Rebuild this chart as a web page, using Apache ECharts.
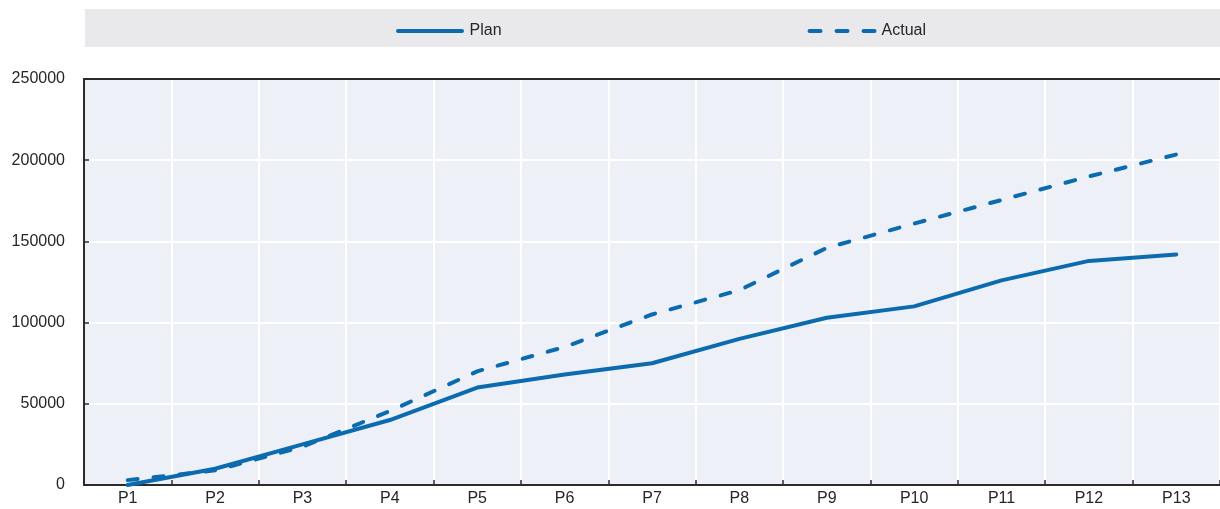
<!DOCTYPE html>
<html>
<head>
<meta charset="utf-8">
<script src="https://cdn.jsdelivr.net/npm/echarts@6/dist/echarts.min.js"></script>
<style>
  html, body { margin: 0; padding: 0; background: #ffffff; }
  #chart { width: 1220px; height: 509px; }
</style>
</head>
<body>
<div id="chart"></div>
<script>
// Periods on the horizontal axis
const periods = ['P1', 'P2', 'P3', 'P4', 'P5', 'P6', 'P7', 'P8', 'P9', 'P10', 'P11', 'P12', 'P13'];
// Cumulative planned values
const planValues = [0, 10000, 25000, 40000, 60000, 68000, 75000, 90000, 103000, 110000, 126000, 138000, 142000];
// Cumulative actual values
const actualValues = [3000, 9000, 23500, 45500, 70000, 85000, 105000, 120000, 146000, 161000, 175500, 190000, 203500];
// Value axis ticks
const yMin = 0, yMax = 250000, yStep = 50000;

const blue = '#0b6bae';
const textColor = '#262626';
const fontFamily = '"Liberation Sans", Arial, sans-serif';

// Legend keys: a solid bar and three short dashes
const solidKey = 'path://M2,0 H66 A2,2 0 0 1 66,4 H2 A2,2 0 0 1 2,0 Z';
const dashedKey = 'path://M2,0 H13 A2,2 0 0 1 13,4 H2 A2,2 0 0 1 2,0 Z M29,0 H40 A2,2 0 0 1 40,4 H29 A2,2 0 0 1 29,0 Z M56,0 H67 A2,2 0 0 1 67,4 H56 A2,2 0 0 1 56,0 Z';

const chart = echarts.init(document.getElementById('chart'), null, { renderer: 'canvas' });

chart.setOption({
  animation: false,
  backgroundColor: '#ffffff',
  textStyle: { fontFamily: fontFamily },
  graphic: [{
    type: 'rect',
    z: -10,
    shape: { x: 85, y: 9, width: 1135, height: 38 },
    style: { fill: '#e9e9eb' }
  }],
  legend: {
    left: 391,
    top: 18,
    itemWidth: 69,
    itemHeight: 4,
    itemGap: 306,
    textStyle: { fontSize: 16, color: textColor, fontFamily: fontFamily },
    data: [
      { name: 'Plan', icon: solidKey },
      { name: 'Actual', icon: dashedKey }
    ]
  },
  grid: {
    left: 84, right: 0, top: 79, bottom: 24,
    show: true, backgroundColor: '#edf0f7', borderWidth: 0
  },
  xAxis: [{
    type: 'category',
    data: periods,
    boundaryGap: true,
    axisLine: { show: true, lineStyle: { color: '#2b2b2b', width: 2 } },
    axisTick: { show: true, inside: true, length: 5, lineStyle: { color: '#2b2b2b', width: 1.5 } },
    axisLabel: { color: textColor, fontSize: 16, margin: 6, fontFamily: fontFamily },
    splitLine: { show: true, lineStyle: { color: '#ffffff', width: 2 } }
  }, {
    type: 'category',
    data: periods,
    position: 'top',
    axisLine: { show: true, lineStyle: { color: '#2b2b2b', width: 2 } },
    axisTick: { show: false },
    axisLabel: { show: false },
    splitLine: { show: false }
  }],
  yAxis: {
    type: 'value',
    min: yMin, max: yMax, interval: yStep,
    axisLine: { show: true, lineStyle: { color: '#2b2b2b', width: 2 } },
    axisTick: { show: true, inside: true, length: 5, lineStyle: { color: '#2b2b2b', width: 1.5 } },
    axisLabel: {
      color: textColor, fontSize: 16, margin: 19, fontFamily: fontFamily,
      formatter: function (v) { return String(v); }
    },
    splitLine: { show: true, lineStyle: { color: '#ffffff', width: 2 } }
  },
  series: [{
    name: 'Plan',
    type: 'line',
    data: planValues,
    symbol: 'none',
    lineStyle: { color: blue, width: 4, cap: 'round', join: 'round' },
    itemStyle: { color: blue }
  }, {
    name: 'Actual',
    type: 'line',
    data: actualValues,
    symbol: 'none',
    lineStyle: { color: blue, width: 4, type: [10, 16], cap: 'round', join: 'round' },
    itemStyle: { color: blue }
  }]
});
</script>
</body>
</html>
